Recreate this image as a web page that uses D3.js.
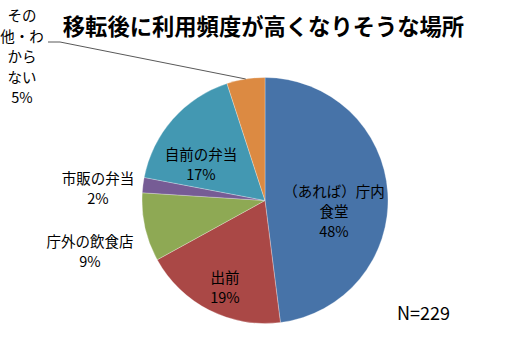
<!DOCTYPE html>
<html><head><meta charset="utf-8">
<script src="https://cdn.jsdelivr.net/npm/d3@7"></script>
<style>body{margin:0;background:#fff}svg{display:block}</style>
</head><body>
<script>
const categories = ["(あれば)庁内食堂","出前","庁外の飲食店","市販の弁当","自前の弁当","その他・わからない"];
const values = [48, 19, 9, 2, 17, 5];
const percentLabels = ["48%","19%","9%","2%","17%","5%"];
const labelLines = [["（あれば）庁内","食堂"],["出前"],["庁外の飲食店"],["市販の弁当"],["自前の弁当"],["その","他・わ","から","ない"]];
const colors = ["#4773a8","#aa4846","#8ea954","#765c95","#4398b2","#dc8a42"];
const title = "移転後に利用頻度が高くなりそうな場所";
const note = "N=229";

const W = 529, H = 358;
const cx = 265, cy = 200.5, R = 123;
const font = "'Noto Sans CJK JP','Noto Sans',sans-serif";

const svg = d3.select("body").append("svg").attr("width", W).attr("height", H);

svg.append("text").attr("x", 263.5).attr("y", 35).attr("text-anchor","middle")
  .attr("font-family", font).attr("font-size", 22.3).attr("font-weight","bold").attr("fill","#000")
  .text(title);

const pie = d3.pie().sort(null).value(d => d)(values);
const arc = d3.arc().innerRadius(0).outerRadius(R);
const g = svg.append("g").attr("transform", `translate(${cx},${cy})`);
g.selectAll("path").data(pie).join("path")
  .attr("d", arc).attr("fill", (d,i) => colors[i])
  .attr("stroke","#ffffff").attr("stroke-opacity",0.35).attr("stroke-width",0.8);

// label block centres, tuned to reference layout
const labelCentres = [[334, 212],[225, 288],[90, 251.5],[98, 188.5],[201, 165],[22, 57]];

pie.forEach((d, i) => {
  const lines = labelLines[i].concat([percentLabels[i]]);
  const [x, yc] = labelCentres[i];
  const lh = i === 5 ? 20.5 : 20;
  const y0 = yc - (lines.length - 1) * lh / 2;
  const t = svg.append("text").attr("text-anchor","middle")
    .attr("font-family", font).attr("font-size", 14.5).attr("fill","#000");
  lines.forEach((s, k) => {
    t.append("tspan").attr("x", x).attr("y", y0 + k * lh).attr("dy","0.35em").text(s);
  });
});

// leader line for その他
const o = pie[5];
const mid = (o.startAngle + o.endAngle) / 2;
const px = cx + R * Math.sin(mid), py = cy - R * Math.cos(mid);
svg.append("path").attr("d", `M48,42 L60,42 L${px},${py}`)
  .attr("fill","none").attr("stroke","#595959").attr("stroke-width",1);

svg.append("text").attr("x", 397).attr("y", 314).attr("dy","0.35em")
  .attr("font-family", font).attr("font-size", 18).attr("fill","#000").text(note);
</script>
</body></html>
